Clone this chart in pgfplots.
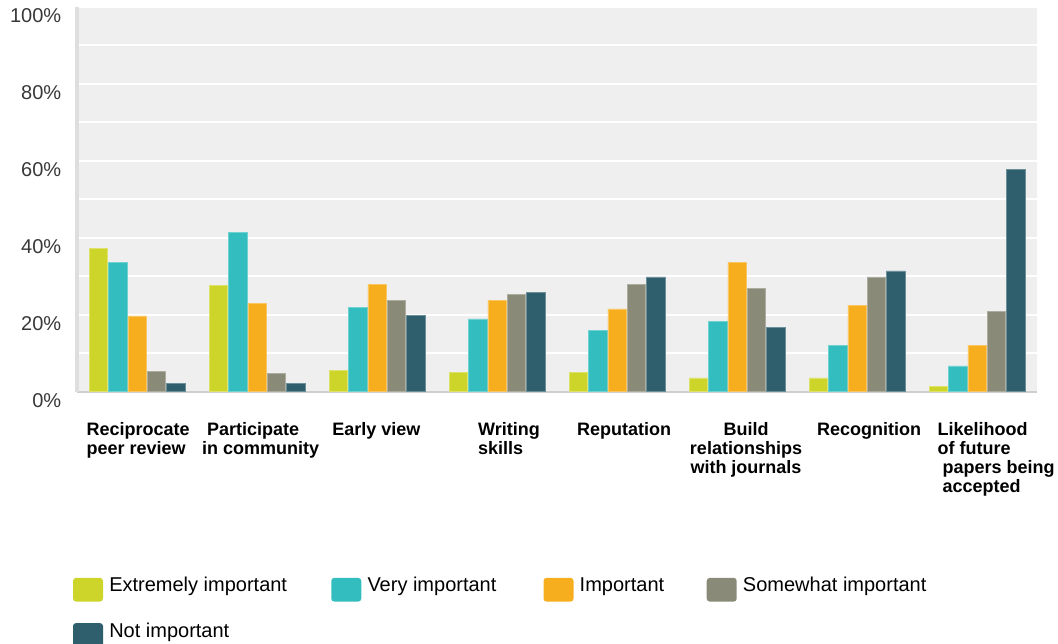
\documentclass[border=0pt]{standalone}
\usepackage{fontspec}
\setmainfont{Liberation Sans}
\usepackage{pgfplots}
\usepackage{pgfplotstable}
\pgfplotsset{compat=1.18}
\definecolor{cA}{HTML}{CDD52A}
\definecolor{cB}{HTML}{33BDBE}
\definecolor{cC}{HTML}{F6AE1F}
\definecolor{cD}{HTML}{898A78}
\definecolor{cE}{HTML}{2F5F6D}
\definecolor{bgc}{HTML}{EFEFEF}
\definecolor{ayc}{HTML}{DEDEDE}
\definecolor{axc}{HTML}{CFCFCF}
\definecolor{tickc}{HTML}{383838}
\pgfplotstableread{
x a b c d e
0 37.2 33.6 19.7 5.2 2.1
1 27.7 41.4 22.9 4.7 2.1
2 5.5 22.0 27.8 23.8 19.9
3 5.0 18.9 23.8 25.3 25.8
4 5.0 15.9 21.5 27.8 29.8
5 3.6 18.3 33.6 26.8 16.7
6 3.6 12.1 22.4 29.8 31.4
7 1.4 6.7 12.1 20.9 57.8
}\data
\begin{document}
\begin{tikzpicture}[x=1pt,y=1pt]
\useasboundingbox (0,0) rectangle (1058,-644);
\begin{axis}[
  at={(77pt,-391.7pt)}, anchor=south west,
  scale only axis, width=960pt, height=385pt,
  xmin=-0.5, xmax=7.5, ymin=0, ymax=100,
  enlargelimits=false,
  axis background/.style={fill=bgc},
  axis x line*=bottom, axis y line*=left,
  x axis line style={draw=axc, line width=2pt},
  y axis line style={draw=ayc, line width=4pt},
  major tick length=0pt, minor tick length=0pt,
  tick style={draw=none},
  ytick={0,20,40,60,80,100},
  yticklabels={0\%,20\%,40\%,60\%,80\%,100\%},
  minor ytick={10,30,50,70,90},
  ymajorgrids, yminorgrids,
  major grid style={white, line width=2pt},
  minor grid style={white, line width=2pt},
  yticklabel style={font=\fontsize{20}{24}\selectfont, text=tickc, xshift=-12.3pt, yshift=-9pt},
  xtick={0.01,1.03,1.995,3.1,4.06,5.075,6.1,7.16},
  xticklabels={
    {\begin{tabular}{@{}l@{}}Reciprocate\\peer review\end{tabular}},
    {\begin{tabular}{@{}l@{}}\ Participate\\in community\end{tabular}},
    {\begin{tabular}{@{}l@{}}Early view\end{tabular}},
    {\begin{tabular}{@{}l@{}}Writing\\skills\end{tabular}},
    {\begin{tabular}{@{}l@{}}Reputation\end{tabular}},
    {\begin{tabular}{@{}c@{}}Build\\relationships\\with journals\end{tabular}},
    {\begin{tabular}{@{}l@{}}Recognition\end{tabular}},
    {\begin{tabular}{@{}l@{}}Likelihood\\of future\\\ papers being\\\ accepted\end{tabular}}},
  xticklabel style={font=\fontsize{18}{19}\bfseries\selectfont, text=black, anchor=north, inner sep=0pt, yshift=-30pt},
  ybar, bar width=18.5pt,
  legend columns=4,
  legend cell align=left,
  legend style={at={(axis description cs:-0.00417,-0.4823)}, anchor=north west,
    draw=none, fill=none, inner sep=0pt, outer sep=0pt,
    font=\fontsize{20}{24}\selectfont, column sep=0pt, row sep=21pt,
    nodes={inner sep=0pt, anchor=base west}},
  legend image code/.code={\fill[#1, draw=none, rounded corners=3pt] (0pt,-9.7pt) rectangle (30pt,14pt); \path (36pt,0pt);},
]
\addplot[fill=cA, draw=cA!70!white, line width=0.5pt, bar shift=-38.6pt] table[x=x,y=a]{\data};
\addplot[fill=cB, draw=cB!70!white, line width=0.5pt, bar shift=-19.3pt] table[x=x,y=b]{\data};
\addplot[fill=cC, draw=cC!70!white, line width=0.5pt, bar shift=0pt] table[x=x,y=c]{\data};
\addplot[fill=cD, draw=cD!70!white, line width=0.5pt, bar shift=19.3pt] table[x=x,y=d]{\data};
\addplot[fill=cE, draw=cE!70!white, line width=0.5pt, bar shift=38.6pt] table[x=x,y=e]{\data};
\legend{\makebox[222pt][l]{Extremely important},\makebox[176pt][l]{Very important},\makebox[127pt][l]{Important},Somewhat important,Not important}
\end{axis}
\end{tikzpicture}
\end{document}
